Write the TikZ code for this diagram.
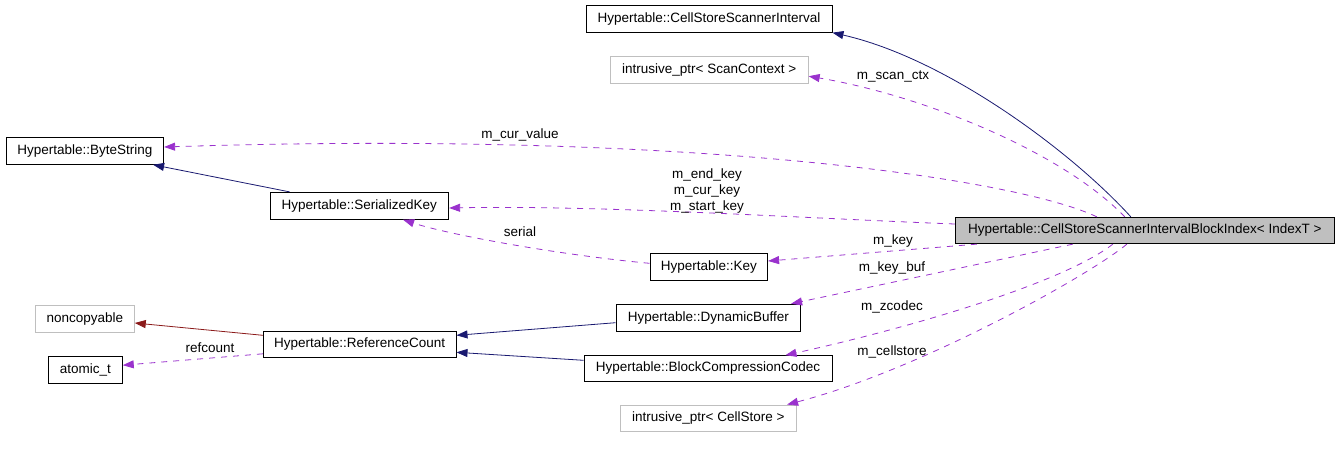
\documentclass[tikz,border=0pt]{standalone}
\usepackage{fontspec}
\setmainfont{Liberation Sans}
\usetikzlibrary{arrows.meta}
\definecolor{navyc}{HTML}{191970}
\definecolor{orch}{HTML}{9A32CD}
\definecolor{fred}{HTML}{8B1A1A}
\definecolor{gbord}{HTML}{BFBFBF}
\begin{document}
\begin{tikzpicture}[x=1pt,y=-1pt,
  box/.style={draw=black, line width=0.9pt, inner sep=0pt, font=\fontsize{13.5}{16}\selectfont, minimum height=27pt, anchor=center},
  gbox/.style={box, draw=gbord},
  mainbox/.style={box, fill=gbord},
  tip/.style={-{Triangle[length=11pt,width=8pt]}},
  inh/.style={navyc, line width=0.8pt, tip},
  priv/.style={fred, line width=0.8pt, tip},
  use/.style={orch, line width=0.8pt, dash pattern=on 6pt off 6pt, tip},
  lbl/.style={font=\fontsize{13.5}{16}\selectfont, inner sep=0pt, text=black, anchor=center, align=center}]
\useasboundingbox (0,0) rectangle (1339,448);

\node[box, minimum width=246pt] (csi) at (709,18.7) {Hypertable::CellStoreScannerInterval};
\node[gbox, minimum width=198pt] (scanctx) at (709.2,69.7) {intrusive\_ptr< ScanContext >};
\node[box, minimum width=157.7pt] (bytestr) at (84.8,150.8) {Hypertable::ByteString};
\node[box, minimum width=178.7pt] (serkey) at (359.3,205.8) {Hypertable::SerializedKey};
\node[mainbox, minimum width=379pt, minimum height=26.4pt] (main) at (1144.8,230.5) {Hypertable::CellStoreScannerIntervalBlockIndex< IndexT >};
\node[box, minimum width=117.7pt] (key) at (708.8,266.8) {Hypertable::Key};
\node[gbox, minimum width=99pt] (noncopy) at (84.8,318.7) {noncopyable};
\node[box, minimum width=184.7pt] (dynbuf) at (708.3,317.7) {Hypertable::DynamicBuffer};
\node[box, minimum width=192.7pt, minimum height=26pt] (refcount) at (359.7,344.3) {Hypertable::ReferenceCount};
\node[box, minimum width=74pt, minimum height=27.3pt] (atomic) at (85.3,369.7) {atomic\_t};
\node[box, minimum width=248pt, minimum height=25.3pt] (bcc) at (708,368.3) {Hypertable::BlockCompressionCodec};
\node[gbox, minimum width=176.7pt, minimum height=26pt] (cellstore) at (708.3,418) {intrusive\_ptr< CellStore >};

% inheritance
\draw[inh] ([xshift=176pt]main.north west) .. controls (1070,150) and (945,58) .. (csi.south east);
\draw[inh] ([xshift=20pt]serkey.north west) -- ([xshift=-11pt]bytestr.south east);
\draw[inh] ([yshift=-5pt]dynbuf.west) -- ([yshift=9pt]refcount.east);
\draw[inh] ([yshift=8pt]bcc.west) -- ([yshift=-8pt]refcount.east);
\draw[priv] ([yshift=9pt]refcount.west) -- ([yshift=-4.3pt]noncopy.east);

% usage
\draw[use] ([xshift=170pt]main.north west) .. controls (1060,150) and (920,95) .. ([yshift=-6.5pt]scanctx.east);
\draw[use] ([xshift=142pt]main.north west) .. controls (1020,180) and (700,130) .. ([yshift=3.8pt]bytestr.east);
\draw[use] ([yshift=6.5pt]main.west) .. controls (800,218) and (600,205) .. ([yshift=-2.2pt]serkey.east);
\draw[use] ([xshift=22pt]main.south west) -- ([yshift=5.8pt]key.east);
\draw[use] ([yshift=3.5pt]key.west) .. controls (560,255) and (450,235) .. ([xshift=-46pt]serkey.south east);
\draw[use] ([xshift=118pt]main.south west) -- ([xshift=-10pt]dynbuf.north east);
\draw[use] ([xshift=158pt]main.south west) .. controls (1060,285) and (900,330) .. ([xshift=-47pt]bcc.north east);
\draw[use] ([xshift=172pt]main.south west) .. controls (1090,275) and (920,370) .. ([xshift=-10pt]cellstore.north east);
\draw[use] ([yshift=-9.5pt]refcount.west) -- ([yshift=4.5pt]atomic.east);

% labels
\node[lbl] (l1) at (893,76) {m\_scan\_ctx};
\node[lbl] (l2) at (520,135) {m\_cur\_value};
\node[lbl] (l3) at (707,191) {m\_end\_key\\m\_cur\_key\\m\_start\_key};
\node[lbl] (l4) at (520,232) {serial};
\node[lbl] (l5) at (893,241) {m\_key};
\node[lbl] (l6) at (892,268) {m\_key\_buf};
\node[lbl] (l7) at (892,307) {m\_zcodec};
\node[lbl] (l8) at (892,352) {m\_cellstore};
\node[lbl] (l9) at (210,348) {refcount};
\end{tikzpicture}
\end{document}
